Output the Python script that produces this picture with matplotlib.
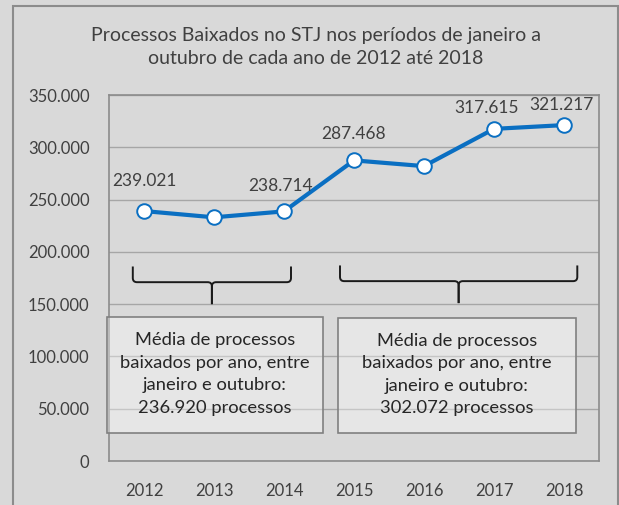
import numpy as np
import matplotlib
matplotlib.use("Agg")
from matplotlib import pyplot as plt
from matplotlib.patches import Rectangle, PathPatch
from matplotlib.path import Path
from matplotlib.ticker import FuncFormatter, MultipleLocator

plt.rcParams['font.family'] = ['Lato', 'DejaVu Sans']

# dados
years = ['2012', '2013', '2014', '2015', '2016', '2017', '2018']
processos = [239021, 233025, 238714, 287468, 281988, 317615, 321217]
shown_labels = [True, False, True, True, False, True, True]
label_offsets = [(0, 30), (0, 0), (-3, 25), (0, 26), (0, 0), (-7, 21), (-2, 20)]  # pixels

title = "Processos Baixados no STJ nos períodos de janeiro a\noutubro de cada ano de 2012 até 2018"
box_texts = ["Média de processos\nbaixados por ano, entre\njaneiro e outubro:\n236.920 processos",
             "Média de processos\nbaixados por ano, entre\njaneiro e outubro:\n302.072 processos"]

bg = '#d9d9d9'
blue = '#0a6fc2'
txt = '#404040'
grid_c = '#a6a6a6'

W, H = 619, 505
fig = plt.figure(figsize=(W / 100, H / 100), dpi=100, facecolor=bg)

def px_box(l, t, r, b):
    return [l / W, 1 - b / H, (r - l) / W, (b - t) / H]

ax = fig.add_axes(px_box(109, 95, 599, 461))
ax.set_facecolor(bg)

x = np.arange(len(years))
ax.plot(x, processos, '-o', color=blue, lw=3, ms=10.5, mfc='white', mec=blue, mew=1.4,
        zorder=5, clip_on=False)

def fmt(v, pos=None):
    return '{:,.0f}'.format(v).replace(',', '.')

for i, v in enumerate(processos):
    if shown_labels[i]:
        ax.annotate(fmt(v), (x[i], v), xytext=label_offsets[i], textcoords='offset pixels',
                    ha='center', va='center', fontsize=12.5, color=txt, zorder=6)

ax.set_xlim(-0.5, len(years) - 0.5)
ax.set_ylim(0, 350000)
ax.yaxis.set_major_locator(MultipleLocator(50000))
ax.yaxis.set_major_formatter(FuncFormatter(fmt))
ax.set_xticks(x)
ax.set_xticklabels(years)
ax.tick_params(length=0, labelsize=12, labelcolor=txt)
ax.tick_params(axis='y', pad=14)
ax.tick_params(axis='x', pad=16)
ax.grid(axis='y', color=grid_c, lw=1)
ax.set_axisbelow(True)
for s in ax.spines.values():
    s.set_color('#8c8c8c')
    s.set_linewidth(1.2)

# chaves
def brace(ax, x0, x1, ytop, ymid, ytip):
    rx, ry = 0.06, 4000
    xc = (x0 + x1) / 2
    for a, sgn in ((x0, 1), (x1, -1)):
        verts = [(a, ytop), (a, ymid + ry), (a, ymid), (a + sgn * rx, ymid),
                 (xc - sgn * rx, ymid), (xc, ymid), (xc, ymid - ry), (xc, ytip)]
        codes = [Path.MOVETO, Path.LINETO, Path.CURVE3, Path.CURVE3,
                 Path.LINETO, Path.CURVE3, Path.CURVE3, Path.LINETO]
        ax.add_patch(PathPatch(Path(verts, codes), fc='none', ec='#1a1a1a', lw=1.4,
                               zorder=4, clip_on=False))

brace(ax, -0.16, 2.1, 186000, 171000, 150000)
brace(ax, 2.8, 6.19, 187000, 172000, 151000)

# caixas de texto
for (l, t, r, b), s in zip([(107, 317, 323, 433), (338, 318, 576, 433)], box_texts):
    rect = Rectangle((l / W, 1 - b / H), (r - l) / W, (b - t) / H, transform=fig.transFigure,
                     fc=(1, 1, 1, 0.35), ec='#808080', lw=1.2, zorder=7)
    fig.add_artist(rect)
    fig.text((l + r) / 2 / W, 1 - (t + b) / 2 / H + 0.002, s, ha='center', va='center',
             fontsize=13.2, color='#262626', linespacing=1.5, zorder=8)

fig.text(316 / W, 1 - 47 / H, title, ha='center', va='center', fontsize=14,
         color=txt, linespacing=1.5)

fig.add_artist(Rectangle((12.5 / W, -0.05), 605 / W, 1 - 6 / H + 0.05, transform=fig.transFigure,
                         fc='none', ec='#8c8c8c', lw=1.5))

fig.savefig('out.png', dpi=100, facecolor=bg)
